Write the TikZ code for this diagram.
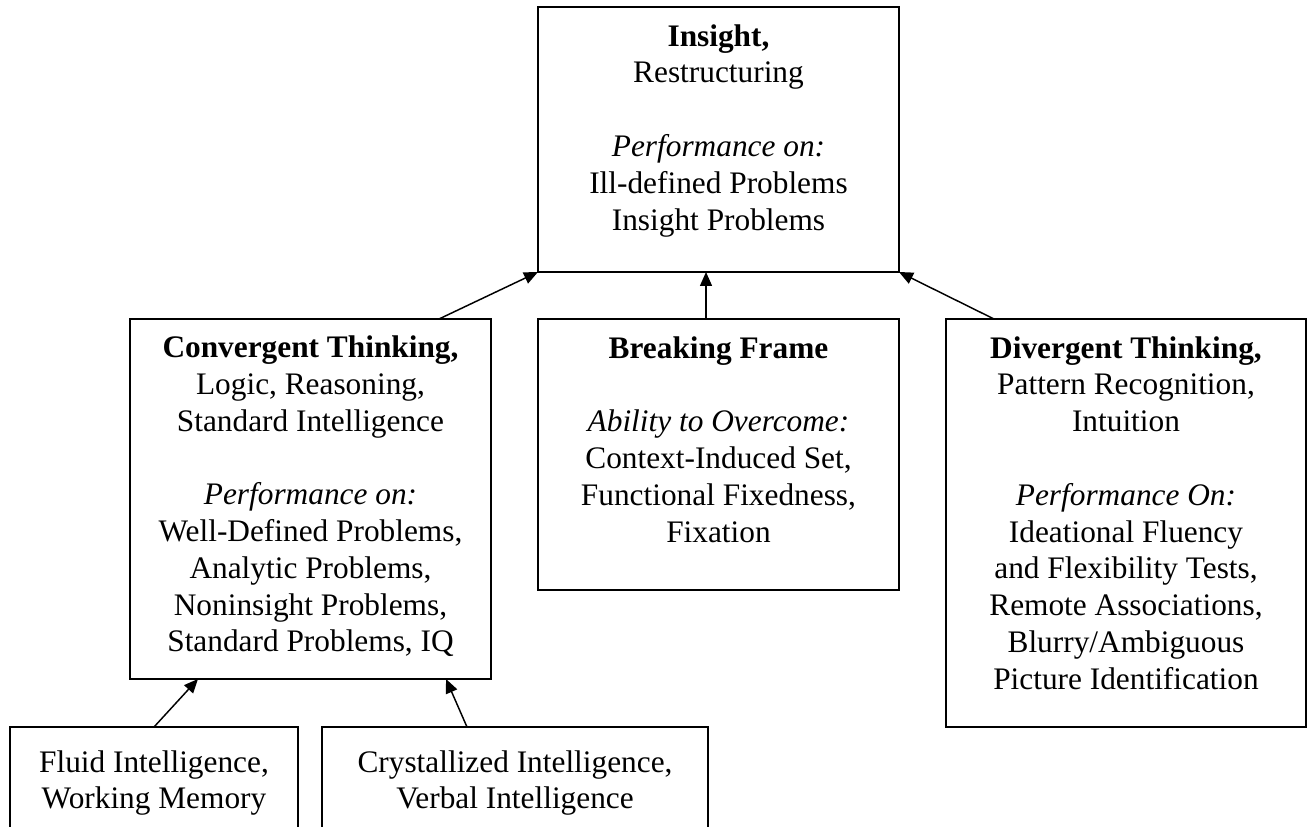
\documentclass[tikz,border=0pt]{standalone}
\usepackage{fontspec}
\setmainfont{Liberation Serif}
\usetikzlibrary{arrows.meta,calc}
\newcommand\bxtext[4]{\parbox[c][#2][t]{#1}{\centering\vspace*{#3}\strut#4\par}}
\begin{document}
\begin{tikzpicture}[x=0.75pt,y=-0.75pt,
  bx/.style={draw, line width=1.1pt, inner sep=0pt, outer sep=0pt, anchor=north west,
             font=\fontsize{23.5}{27.6}\selectfont},
  arr/.style={line width=1.1pt, -{Triangle[length=10.5pt,width=9pt]}}]
\useasboundingbox (0,0) rectangle (1307,827);
\clip (0,0) rectangle (1307,827);

\node[bx] (ins) at (538,7) {\bxtext{270.75pt}{198.75pt}{10pt}{%
  \textbf{Insight,}\\ Restructuring\\[\baselineskip]
  \textit{Performance on:}\\ Ill-defined Problems\\ Insight Problems}};

\node[bx] (conv) at (130,319) {\bxtext{270.75pt}{270pt}{9.5pt}{%
  \textbf{Convergent Thinking,}\\ Logic, Reasoning,\\ Standard Intelligence\\[\baselineskip]
  \textit{Performance on:}\\ Well-Defined Problems,\\ Analytic Problems,\\
  Noninsight Problems,\\ Standard Problems, IQ}};

\node[bx] (bf) at (538,319) {\bxtext{270.75pt}{203.25pt}{10pt}{%
  \textbf{Breaking Frame}\\[\baselineskip]
  \textit{Ability to Overcome:}\\ Context-Induced Set,\\ Functional Fixedness,\\ Fixation}};

\node[bx] (div) at (946,319) {\bxtext{270pt}{306pt}{10pt}{%
  \textbf{Divergent Thinking,}\\ Pattern Recognition,\\ Intuition\\[\baselineskip]
  \textit{Performance On:}\\ Ideational Fluency\\ and Flexibility Tests,\\
  Remote Associations,\\ Blurry/Ambiguous\\ Picture Identification}};

\node[bx] (fl) at (10,727) {\bxtext{216pt}{115pt}{14.5pt}{%
  Fluid Intelligence,\\ Working Memory}};

\node[bx] (cr) at (322,727) {\bxtext{289.5pt}{115pt}{14.5pt}{%
  Crystallized Intelligence,\\ Verbal Intelligence}};

\draw[arr] ($(conv.north west)+(309,0)$) -- (ins.south west);
\draw[arr] ($(bf.north west)+(168,0)$) -- ($(ins.south west)+(168,0)$);
\draw[arr] ($(div.north west)+(48,0)$) -- (ins.south east);
\draw[arr] ($(fl.north west)+(144,0)$) -- ($(conv.south west)+(68,0)$);
\draw[arr] ($(cr.north west)+(145,0)$) -- ($(conv.south west)+(316,0)$);
\end{tikzpicture}
\end{document}
